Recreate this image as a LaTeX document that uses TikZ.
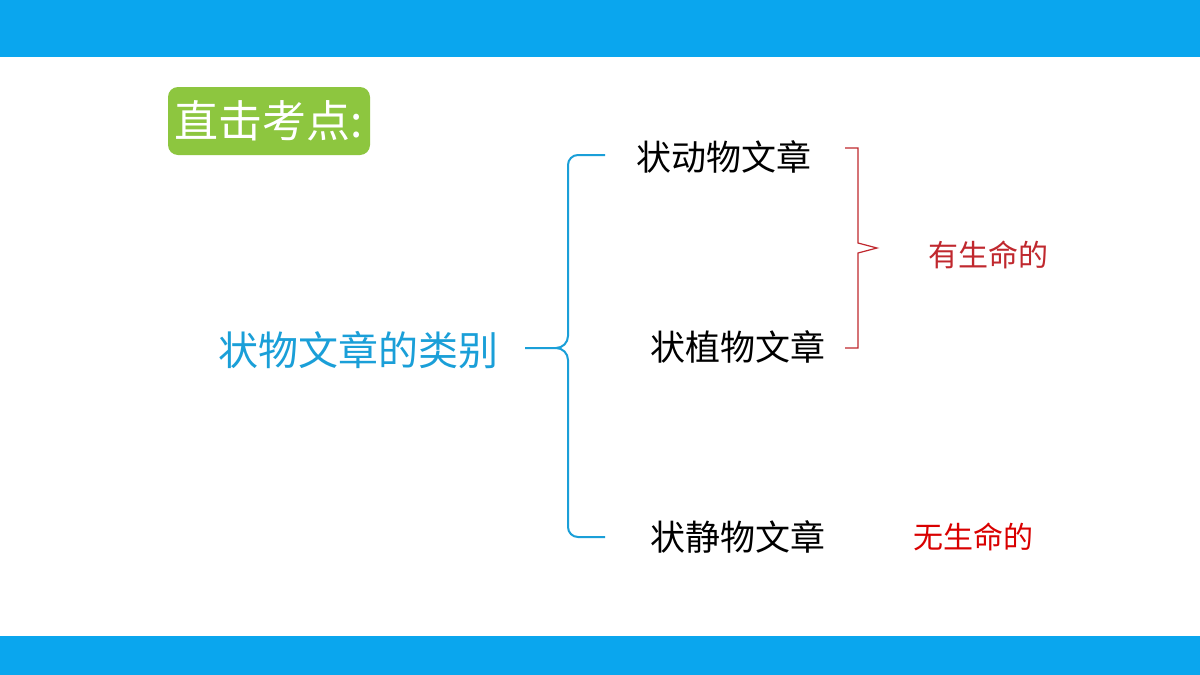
\documentclass[tikz,border=0pt]{standalone}
\usepackage{fontspec}
\newfontfamily\cjk{Noto Sans CJK SC}
\definecolor{barblue}{HTML}{0AA6EE}
\definecolor{tblue}{HTML}{1A9FD8}
\definecolor{gbox}{HTML}{8DC63F}
\definecolor{dred}{HTML}{C0282E}
\begin{document}
\begin{tikzpicture}[x=0.5pt,y=-0.5pt,
  item/.style={font=\cjk\fontsize{17.5}{20}\selectfont,text=black},
  lab/.style={font=\cjk\fontsize{15}{18}\selectfont,text=dred}]
\useasboundingbox (0,0) rectangle (1200,675);
\fill[white] (0,0) rectangle (1200,675);
\fill[barblue] (0,0) rectangle (1200,57);
\fill[barblue] (0,636) rectangle (1200,675);
\node[fill=gbox,rounded corners=5pt,minimum width=101pt,minimum height=34pt,text=white,font=\cjk\fontsize{22}{25}\selectfont] (t) at (269,121) {直击考点:};
\node[font=\cjk\fontsize{20}{23}\selectfont,text=tblue] (m) at (358,350) {状物文章的类别};
\node[item] (a) at (724,157) {状动物文章};
\node[item] (b) at (738,347) {状植物文章};
\node[item] (c) at (738,537) {状静物文章};
\node[lab] (l1) at (988,255) {有生命的};
\node[lab,text=red!85!black] (l2) at (973,537) {无生命的};
\coordinate (bt) at (605,155);
\coordinate (bb) at (605,537);
\draw[tblue,line width=1pt] (bt) -- (578,155) to[out=180,in=90] (568,165) -- (568,336) to[out=-90,in=0] (556,348) -- (525,348);
\draw[tblue,line width=1pt] (bb) -- (578,537) to[out=180,in=-90] (568,527) -- (568,360) to[out=90,in=0] (556,348);
\coordinate (rt) at (845,148);
\coordinate (rb) at (845,348);
\draw[dred,line width=0.6pt] (rt) -- (858,148) -- (858,243) -- (877,248) -- (858,253) -- (858,348) -- (rb);
\end{tikzpicture}
\end{document}
